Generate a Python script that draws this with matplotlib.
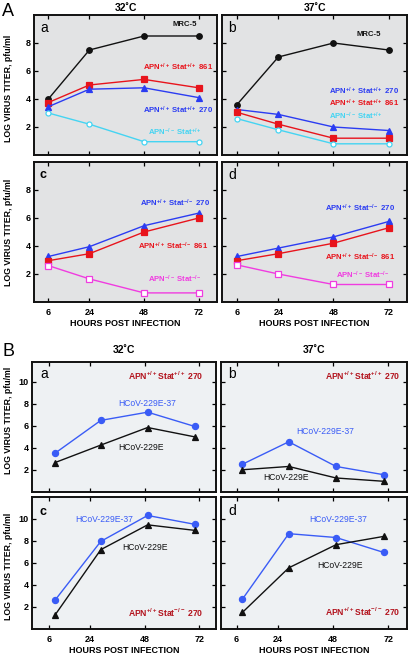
import matplotlib
matplotlib.use("Agg")
import matplotlib.pyplot as plt

plt.rcParams['font.family'] = ['Liberation Sans', 'DejaVu Sans']
plt.rcParams['mathtext.fontset'] = 'custom'
plt.rcParams['mathtext.rm'] = 'Liberation Sans:bold'
plt.rcParams['mathtext.bf'] = 'Liberation Sans:bold'
plt.rcParams['mathtext.it'] = 'Liberation Sans:bold'

# ---------------- data ----------------
hours = [6, 24, 48, 72]
hour_ticks = [6, 24, 48, 72]
hours_B = [8.5, 28.7, 49.3, 70]

# Panel A, 32C
A32_mrc5 = [4.0, 7.5, 8.5, 8.5]
A32_861 = [3.75, 5.0, 5.4, 4.8]
A32_270 = [3.45, 4.7, 4.8, 4.1]
A32_apnko = [3.0, 2.2, 0.95, 0.95]
# Panel A, 37C
A37_mrc5 = [3.6, 7.0, 8.0, 7.5]
A37_270 = [3.25, 2.9, 2.0, 1.75]
A37_861 = [3.05, 2.2, 1.2, 1.2]
A37_apnko = [2.6, 1.8, 0.8, 0.8]
# Panel A, Stat-/- 32C
Ac_270 = [3.25, 3.95, 5.45, 6.35]
Ac_861 = [2.95, 3.45, 5.0, 6.0]
Ac_dko = [2.6, 1.65, 0.65, 0.65]
# Panel A, Stat-/- 37C
Ad_270 = [3.25, 3.85, 4.65, 5.75]
Ad_861 = [2.95, 3.45, 4.2, 5.3]
Ad_dko = [2.65, 2.0, 1.25, 1.25]

# Panel B
Ba_37 = [3.5, 6.5, 7.25, 5.95]
Ba_wt = [2.65, 4.25, 5.85, 5.0]
Bb_37 = [2.5, 4.55, 2.3, 1.55]
Bb_wt = [2.0, 2.3, 1.25, 0.95]
Bc_37 = [2.6, 7.95, 10.3, 9.5]
Bc_wt = [1.25, 7.2, 9.45, 8.95]
Bd_37 = [2.7, 8.65, 8.3, 6.95]
Bd_wt = [1.5, 5.55, 7.65, 8.4]

yticks_A = [2, 4, 6, 8]
yticks_B = [2, 4, 6, 8, 10]

# ---------------- style ----------------
W, H = 410, 660
BLACK = '#111111'
RED = '#e8141c'
BLUE = '#2b3cf2'
CYAN = '#45d4f2'
MAGENTA = '#f03ce0'
BBLUE = '#3a5cf6'
DRED = '#b3141e'
BG_A = '#e2e3e4'
BG_B = '#eef1f3'

fig = plt.figure(figsize=(W / 100, H / 100), dpi=100)


def rect(x0, y0, x1, y1):
    return [x0 / W, 1 - y1 / H, (x1 - x0) / W, (y1 - y0) / H]


def ftext(x, y, s, **kw):
    kw.setdefault('ha', 'left')
    kw.setdefault('va', 'center')
    fig.text(x / W, 1 - y / H, s, **kw)


def make_ax(r, bg, xlim, ylim, yticks, showx, showy):
    ax = fig.add_axes(rect(*r))
    ax.set_facecolor(bg)
    ax.set_xlim(*xlim)
    ax.set_ylim(*ylim)
    ax.set_xticks(hour_ticks)
    ax.set_yticks(yticks)
    for s in ax.spines.values():
        s.set_linewidth(1.4)
        s.set_color(BLACK)
    ax.tick_params(direction='in', top=True, right=True, length=3, width=0.9,
                   labelsize=6.5, pad=2)
    ax.tick_params(axis='x', pad=4)
    ax.tick_params(labelbottom=showx, labelleft=showy)
    for lab in ax.get_xticklabels() + ax.get_yticklabels():
        lab.set_fontweight('bold')
    if showx:
        ax.set_xlabel('HOURS POST INFECTION', fontsize=6.5, fontweight='bold', labelpad=2)
    return ax


def line(ax, x, y, color, marker, ms, mfc=None, lw=1.0):
    ax.plot(x, y, color=color, lw=lw, marker=marker, ms=ms,
            mfc=mfc if mfc else color, mec=color, mew=0.9, clip_on=False, zorder=3)


XA = (-0.3, 80)
XB_L = (-1.7, 79.6)
XB_R = (-0.8, 80.4)

# ---------------- Panel A ----------------
a = make_ax((34, 15, 217, 155), BG_A, XA, (0, 10), yticks_A, False, True)
line(a, hours, A32_mrc5, BLACK, 'o', 4)
line(a, hours, A32_861, RED, 's', 4.2)
line(a, hours, A32_270, BLUE, '^', 4)
line(a, hours, A32_apnko, CYAN, 'o', 3.6, mfc='white')
a.set_title('32˚C', fontsize=7.5, fontweight='bold', pad=3)

b = make_ax((222.5, 15, 407, 155), BG_A, XA, (0, 10), yticks_A, False, False)
line(b, hours, A37_mrc5, BLACK, 'o', 4)
line(b, hours, A37_270, BLUE, '^', 4)
line(b, hours, A37_861, RED, 's', 4.2)
line(b, hours, A37_apnko, CYAN, 'o', 3.6, mfc='white')
b.set_title('37˚C', fontsize=7.5, fontweight='bold', pad=3)

c = make_ax((34, 162, 217, 302), BG_A, XA, (0, 10), yticks_A, True, True)
line(c, hours, Ac_270, BLUE, '^', 4)
line(c, hours, Ac_861, RED, 's', 4.2)
line(c, hours, Ac_dko, MAGENTA, 's', 4, mfc='white')

d = make_ax((222.5, 162, 407, 302), BG_A, XA, (0, 10), yticks_A, True, False)
line(d, hours, Ad_270, BLUE, '^', 4)
line(d, hours, Ad_861, RED, 's', 4.2)
line(d, hours, Ad_dko, MAGENTA, 's', 4, mfc='white')

LS = 5.6
pp = r'$^{+/+}$'
mm = r'$^{-/-}$'
ftext(173, 25, 'MRC-5', fontsize=LS, fontweight='bold', color=BLACK)
ftext(143, 67, 'APN' + pp + ' Stat' + pp + ' 861', fontsize=LS, fontweight='bold', color=RED)
ftext(143, 110, 'APN' + pp + ' Stat' + pp + ' 270', fontsize=LS, fontweight='bold', color=BLUE)
ftext(148, 132, 'APN' + mm + ' Stat' + pp, fontsize=LS, fontweight='bold', color=CYAN)

ftext(357, 35, 'MRC-5', fontsize=LS, fontweight='bold', color=BLACK)
ftext(329, 91, 'APN' + pp + ' Stat' + pp + ' 270', fontsize=LS, fontweight='bold', color=BLUE)
ftext(329, 103, 'APN' + pp + ' Stat' + pp + ' 861', fontsize=LS, fontweight='bold', color=RED)
ftext(329, 116, 'APN' + mm + ' Stat' + pp, fontsize=LS, fontweight='bold', color=CYAN)

ftext(140, 203, 'APN' + pp + ' Stat' + mm + ' 270', fontsize=LS, fontweight='bold', color=BLUE)
ftext(138, 246, 'APN' + pp + ' Stat' + mm + ' 861', fontsize=LS, fontweight='bold', color=RED)
ftext(148, 279, 'APN' + mm + ' Stat' + mm, fontsize=LS, fontweight='bold', color=MAGENTA)

ftext(325, 208, 'APN' + pp + ' Stat' + mm + ' 270', fontsize=LS, fontweight='bold', color=BLUE)
ftext(325, 257, 'APN' + pp + ' Stat' + mm + ' 861', fontsize=LS, fontweight='bold', color=RED)
ftext(336, 275, 'APN' + mm + ' Stat' + mm, fontsize=LS, fontweight='bold', color=MAGENTA)

# panel letters
ftext(40, 28, 'a', fontsize=10)
ftext(228, 28, 'b', fontsize=10)
ftext(40, 175, 'c', fontsize=9, fontweight='bold')
ftext(228, 175, 'd', fontsize=10)
ftext(2, 12, 'A', fontsize=13)

# ---------------- Panel B ----------------
ba = make_ax((31.7, 361.7, 216.5, 491.7), BG_B, XB_L, (0, 11.85), yticks_B, False, True)
line(ba, hours_B, Ba_37, BBLUE, 'o', 4.4)
line(ba, hours_B, Ba_wt, BLACK, '^', 4.2)
ba.set_title('32˚C', fontsize=7.5, fontweight='bold', pad=6)

bb = make_ax((221, 361.7, 407.5, 491.7), BG_B, XB_R, (0, 11.85), yticks_B, False, False)
line(bb, hours_B, Bb_37, BBLUE, 'o', 4.4)
line(bb, hours_B, Bb_wt, BLACK, '^', 4.2)
bb.set_title('37˚C', fontsize=7.5, fontweight='bold', pad=6)

bc = make_ax((31.7, 497.3, 216.5, 629), BG_B, XB_L, (0, 11.95), yticks_B, True, True)
line(bc, hours_B, Bc_37, BBLUE, 'o', 4.4)
line(bc, hours_B, Bc_wt, BLACK, '^', 4.2)

bd = make_ax((221, 497.3, 407.5, 629), BG_B, XB_R, (0, 11.95), yticks_B, True, False)
line(bd, hours_B, Bd_37, BBLUE, 'o', 4.4)
line(bd, hours_B, Bd_wt, BLACK, '^', 4.2)

BS = 6.2
pB = r'$^{+/+}$'
mB = r'$^{-/-}$'
ftext(128, 376, 'APN' + pB + 'Stat' + pB + ' 270', fontsize=BS, fontweight='bold', color=DRED)
ftext(118, 404, 'HCoV-229E-37', fontsize=BS, color=BBLUE)
ftext(118, 447, 'HCoV-229E', fontsize=BS, color=BLACK)

ftext(325, 376, 'APN' + pB + 'Stat' + pB + ' 270', fontsize=BS, fontweight='bold', color=DRED)
ftext(296, 432, 'HCoV-229E-37', fontsize=BS, color=BBLUE)
ftext(263, 478, 'HCoV-229E', fontsize=BS, color=BLACK)

ftext(75, 519, 'HCoV-229E-37', fontsize=BS, color=BBLUE)
ftext(122, 548, 'HCoV-229E', fontsize=BS, color=BLACK)
ftext(128, 613, 'APN' + pB + 'Stat' + mB + ' 270', fontsize=BS, fontweight='bold', color=DRED)

ftext(309, 519, 'HCoV-229E-37', fontsize=BS, color=BBLUE)
ftext(317, 566, 'HCoV-229E', fontsize=BS, color=BLACK)
ftext(325, 612, 'APN' + pB + 'Stat' + mB + ' 270', fontsize=BS, fontweight='bold', color=DRED)

ftext(40, 374, 'a', fontsize=10)
ftext(228, 374, 'b', fontsize=10)
ftext(40, 512, 'c', fontsize=9, fontweight='bold')
ftext(228, 511, 'd', fontsize=10)
ftext(2, 352, 'B', fontsize=13)

# y labels
for yc in (88, 232, 420, 566):
    ftext(9, yc, 'LOG VIRUS TITER, pfu/ml', fontsize=6.3, fontweight='bold',
          rotation=90, ha='center', va='center')

fig.savefig('out.png', dpi=100)
